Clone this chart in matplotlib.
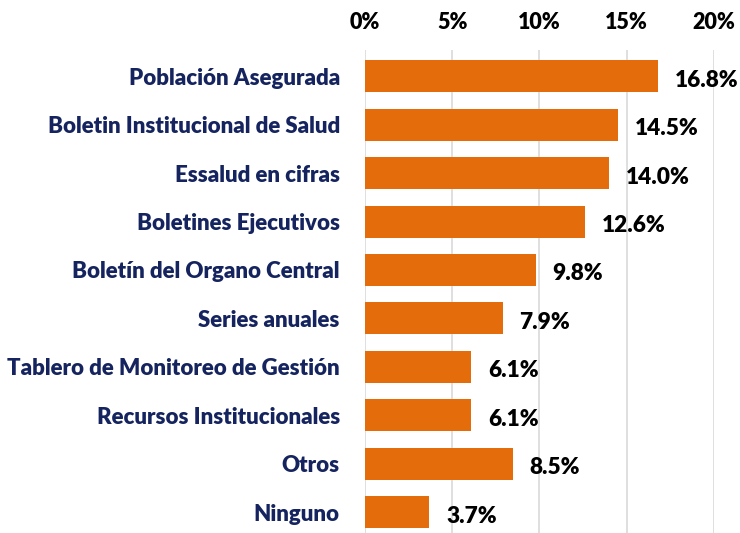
import matplotlib.pyplot as plt
from matplotlib.ticker import FuncFormatter

categories = ['Población Asegurada', 'Boletin Institucional de Salud', 'Essalud en cifras',
              'Boletines Ejecutivos', 'Boletín del Organo Central', 'Series anuales',
              'Tablero de Monitoreo de Gestión', 'Recursos Institucionales', 'Otros', 'Ninguno']
values = [16.8, 14.5, 14.0, 12.6, 9.8, 7.9, 6.1, 6.1, 8.5, 3.7]
xticks = [0, 5, 10, 15, 20]

plt.rcParams['font.family'] = ['Lato', 'DejaVu Sans']

fig = plt.figure(figsize=(7.4, 5.33), dpi=100)
ax = fig.add_axes([0.493, 0.0, 0.472, 0.906])

y = list(range(len(categories)))
ax.barh(y, values, height=0.66, color='#E46C0A', zorder=3)
for yi, v in zip(y, values):
    ax.text(v + 0.95, yi + 0.08, '{:.1f}%'.format(v), va='center', ha='left',
            fontsize=16.3, fontweight='heavy', color='black')

ax.set_ylim(9.43, -0.54)
ax.set_xlim(0, 20)
ax.set_yticks(y)
ax.set_yticklabels(categories, fontsize=16, fontweight='heavy', color='#15245E')
ax.set_xticks(xticks)
ax.xaxis.set_major_formatter(FuncFormatter(lambda v, p: '{:.0f}%'.format(v)))
ax.xaxis.tick_top()
for lbl in ax.get_xticklabels():
    lbl.set_fontweight('heavy')
    lbl.set_fontsize(15.5)
ax.tick_params(axis='x', length=0, pad=12)
ax.tick_params(axis='y', length=0, pad=18)
ax.grid(axis='x', color='#D9D9D9', linewidth=1.2, zorder=0)
for s in ax.spines.values():
    s.set_visible(False)

plt.savefig('out.png', dpi=100)
